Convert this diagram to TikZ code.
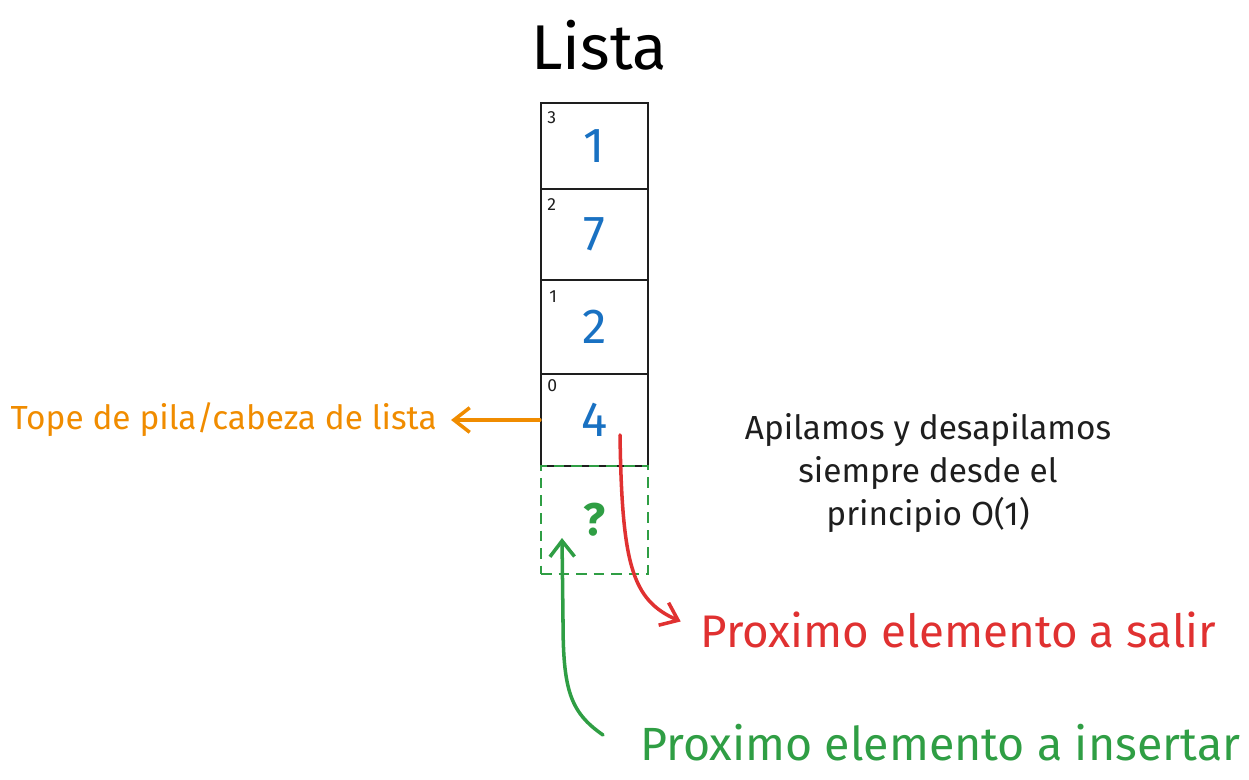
\documentclass[tikz,border=0pt]{standalone}
\usepackage{fontspec}
\setmainfont{Fira Sans}
\usetikzlibrary{arrows.meta}
\definecolor{tinta}{HTML}{1E1E1E}
\definecolor{azul}{HTML}{1971C2}
\definecolor{naranja}{HTML}{F08C00}
\definecolor{rojo}{HTML}{E03131}
\definecolor{verde}{HTML}{2F9E44}

\begin{document}
\begin{tikzpicture}[x=0.02cm,y=-0.02cm,
  celda/.style={draw=tinta, line width=1.3pt, minimum width=2.14cm, minimum height=1.83cm, inner sep=0pt},
  valor/.style={text=azul, font=\fontsize{28}{30}\selectfont},
  indice/.style={anchor=north west, inner sep=0pt, text=tinta, font=\fontsize{10}{12}\selectfont},
  flecha/.style={line width=2pt, line cap=round, -{Straight Barb[length=9pt,width=14pt]}}]
\useasboundingbox (0,0) rectangle (1249,780);

% titulo
\node (titulo) at (599,45) {\fontsize{36}{42}\selectfont Lista};

% la pila
\node[celda, minimum height=1.72cm] (c3) at (594.5,146) {};
\node[celda, minimum height=1.82cm] (c2) at (594.5,234.5) {};
\node[celda, minimum height=1.88cm] (c1) at (594.5,327) {};
\node[celda, minimum height=1.84cm] (c0) at (594.5,420) {};
\node[celda, draw=verde, dash pattern=on 6pt off 4pt, minimum height=2.16cm] (nuevo) at (594.5,520) {};

\node[valor] (v3) at (c3) {1};
\node[valor] (v2) at (c2) {7};
\node[valor] (v1) at (c1) {2};
\node[valor] (v0) at (c0) {4};
\node[text=verde, font=\fontsize{26}{28}\selectfont\bfseries] (vq) at (nuevo) {?};

\node[indice] (i3) at (547,111) {3};
\node[indice] (i2) at (547,198) {2};
\node[indice] (i1) at (549,290) {1};
\node[indice] (i0) at (547,379) {0};

% etiquetas
\node[anchor=east, inner sep=0pt, text=naranja, font=\fontsize{19}{22}\selectfont] (tope) at (437,420) {Tope de pila/cabeza de lista};
\node[anchor=west, inner sep=0pt, text=rojo, font=\fontsize{26}{30}\selectfont] (salir) at (700,630) {Proximo elemento a salir};
\node[anchor=west, inner sep=0pt, text=verde, font=\fontsize{26.5}{30}\selectfont] (insertar) at (640,743) {Proximo elemento a insertar};
\node[align=center, text=tinta, font=\fontsize{19}{24.5}\selectfont] (nota) at (928,473) {Apilamos y desapilamos\\siempre desde el\\principio O(1)};

% flechas
\coordinate (inicioRojo) at (620,435);
\coordinate (finVerde) at (562,538);
\draw[flecha, naranja, shorten >=8pt] (c0.west) -- (c0.west -| tope.east);
\draw[flecha, rojo, shorten >=12pt] (inicioRojo) .. controls (622,565) and (632,600) .. (salir.west);
\draw[flecha, verde] ([shift={(-37,-8)}]insertar.west) .. controls (570,712) and (563,690) .. (563,620) -- (finVerde);

\end{tikzpicture}
\end{document}
